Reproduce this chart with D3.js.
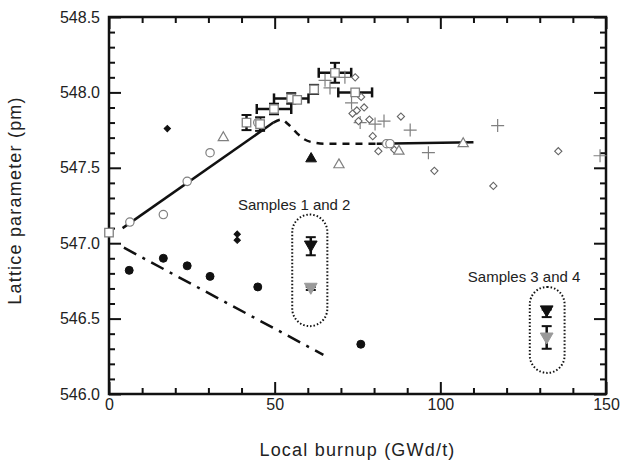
<!DOCTYPE html>
<html>
<head>
<meta charset="utf-8">
<script src="https://cdn.jsdelivr.net/npm/d3@7"></script>
<style>
  body { margin: 0; background: #fff; }
  text { font-family: "Liberation Sans", Arial, sans-serif; fill: #222; }
</style>
</head>
<body>
<div id="chart"></div>
<script>
// x = local burnup (GWd/t), y = lattice parameter (pm)
const xTicks = [0, 50, 100, 150];
const yTicks = [546.0, 546.5, 547.0, 547.5, 548.0, 548.5];

// open squares with error bars: [x, y, xErr, yErr]
const openSquares = [
  [0, 547.07, 0, 0],
  [41.5, 547.80, 0, 0.05],
  [45.6, 547.79, 0, 0.045],
  [49.8, 547.89, 5.2, 0.035],
  [55.0, 547.96, 5.2, 0.035],
  [56.8, 547.95, 0, 0],
  [61.9, 548.02, 0, 0.03],
  [68.2, 548.13, 4.9, 0.066],
  [74.3, 548.00, 5.1, 0]
];
const openCircles = [
  [6.3, 547.14], [16.4, 547.19], [23.6, 547.41], [30.5, 547.60],
  [44.9, 547.80], [83.8, 547.66], [84.8, 547.66]
];
const openTriangles = [
  [34.5, 547.70], [69.4, 547.52], [87.5, 547.61], [106.9, 547.66]
];
const filledTriangles = [[61.0, 547.56]];
const filledDiamonds = [[17.6, 547.76], [38.7, 547.06], [38.7, 547.02]];
const filledCircles = [
  [6.1, 546.82], [16.4, 546.90], [23.6, 546.85], [30.5, 546.78],
  [44.9, 546.71], [76.0, 546.33]
];
const openDiamonds = [
  [74.3, 548.10], [76.1, 547.97], [77.0, 547.90], [74.8, 547.88],
  [73.5, 547.86], [78.6, 547.82], [75.3, 547.81], [88.1, 547.84],
  [79.6, 547.71], [83.5, 547.66], [81.3, 547.61], [86.1, 547.62],
  [98.2, 547.48], [135.6, 547.61], [116.0, 547.38]
];
const crosses = [
  [65.2, 548.08], [66.7, 548.03], [71.2, 548.10], [73.2, 547.93],
  [75.8, 547.80], [80.3, 547.79], [83.0, 547.81], [90.9, 547.75],
  [96.4, 547.60], [117.3, 547.78], [148.2, 547.58]
];
// samples: [x, y, yErrLow, yErrHigh]
const samplesBlack = [[60.9, 546.99, 0.07, 0.05], [132.1, 546.56, 0.05, 0.0]];
const samplesGray = [[60.9, 546.71, 0.02, 0.0], [132.1, 546.38, 0.08, 0.07]];

const solidRise = [[4.1, 547.10], [49.6, 547.80]];
const dashedCurve = [
  [49.6, 547.80], [52.1, 547.82], [54.0, 547.79], [56.7, 547.73], [58.2, 547.70],
  [61.2, 547.67], [65.2, 547.66], [70.6, 547.66], [80.8, 547.66]
];
const solidFlat = [[80.8, 547.66], [110, 547.67]];
const dashDot = [[4.5, 546.97], [64.7, 546.26]];

// sample groups: label, capsule bounds [x0, x1, yTop, yBottom]
const groupLabels = ["Samples 1 and 2", "Samples 3 and 4"];
const groupBoxes = [[55.3, 65.9, 547.19, 546.45], [127.0, 137.5, 546.71, 546.14]];
const groupLabelPos = [[38.9, 547.19], [108.3, 546.71]];

const W = 632, H = 462;
const margin = {top: 17, right: 26, bottom: 68, left: 109};
const width = W - margin.left - margin.right, height = H - margin.top - margin.bottom;

const svg = d3.select("#chart").append("svg")
  .attr("width", W).attr("height", H)
  .append("g")
  .attr("transform", `translate(${margin.left},${margin.top})`);

const x = d3.scaleLinear().domain([0, 150]).range([0, width]);
const y = d3.scaleLinear().domain([546, 548.5]).range([height, 0]);

const xMinor = d3.range(0, 151, 10).filter(v => v % 50 !== 0);
const yMinor = d3.range(0, 26).map(i => 546 + i * 0.1).filter(v => Math.abs(v * 2 - Math.round(v * 2)) > 1e-6);

function styleAxis(g) {
  g.select(".domain").remove();
  g.selectAll("line").attr("stroke", "#111").attr("stroke-width", 2);
  g.selectAll("text").style("font-size", "16px").style("font-family", "Liberation Sans, Arial, sans-serif").attr("fill", "#222");
}

// bottom
svg.append("g").attr("transform", `translate(0,${height})`)
  .call(d3.axisBottom(x).tickValues(xTicks).tickSize(-12).tickPadding(5).tickFormat(d3.format("d")))
  .call(styleAxis);
svg.append("g").attr("transform", `translate(0,${height})`)
  .call(d3.axisBottom(x).tickValues(xMinor).tickSize(-6).tickFormat(""))
  .call(styleAxis);
// top
svg.append("g")
  .call(d3.axisTop(x).tickValues(xTicks).tickSize(-12).tickFormat(""))
  .call(styleAxis);
svg.append("g")
  .call(d3.axisTop(x).tickValues(xMinor).tickSize(-6).tickFormat(""))
  .call(styleAxis);
// left
svg.append("g")
  .call(d3.axisLeft(y).tickValues(yTicks).tickSize(-12).tickPadding(9).tickFormat(d3.format(".1f")))
  .call(styleAxis);
svg.append("g")
  .call(d3.axisLeft(y).tickValues(yMinor).tickSize(-6).tickFormat(""))
  .call(styleAxis);
// right
svg.append("g").attr("transform", `translate(${width},0)`)
  .call(d3.axisRight(y).tickValues(yTicks).tickSize(-12).tickFormat(""))
  .call(styleAxis);
svg.append("g").attr("transform", `translate(${width},0)`)
  .call(d3.axisRight(y).tickValues(yMinor).tickSize(-6).tickFormat(""))
  .call(styleAxis);

// frame
svg.append("rect")
  .attr("width", width).attr("height", height)
  .attr("fill", "none").attr("stroke", "#111").attr("stroke-width", 2.5);

// axis titles
svg.append("text")
  .attr("x", width / 2).attr("y", height + 62)
  .attr("text-anchor", "middle")
  .style("font-size", "18px").style("letter-spacing", "1.2px")
  .text("Local burnup (GWd/t)");
svg.append("text")
  .attr("transform", "rotate(-90)")
  .attr("x", -height / 2 + 5).attr("y", -88)
  .attr("text-anchor", "middle")
  .style("font-size", "18px").style("letter-spacing", "1.2px")
  .text("Lattice parameter (pm)");

// fit lines
const line = d3.line().x(d => x(d[0])).y(d => y(d[1]));
svg.append("path").datum(solidRise).attr("d", line)
  .attr("fill", "none").attr("stroke", "#111").attr("stroke-width", 2.5);
svg.append("path").datum(dashedCurve).attr("d", line.curve(d3.curveMonotoneX))
  .attr("fill", "none").attr("stroke", "#111").attr("stroke-width", 2.5)
  .attr("stroke-dasharray", "7,6");
line.curve(d3.curveLinear);
svg.append("path").datum(solidFlat).attr("d", line)
  .attr("fill", "none").attr("stroke", "#111").attr("stroke-width", 2.5);
svg.append("path").datum(dashDot).attr("d", line)
  .attr("fill", "none").attr("stroke", "#111").attr("stroke-width", 2.5)
  .attr("stroke-dasharray", "14,7,3,7");

// sample capsules
groupBoxes.forEach((b, i) => {
  const x0 = x(b[0]), x1 = x(b[1]), y0 = y(b[2]), y1 = y(b[3]);
  svg.append("rect")
    .attr("x", x0).attr("y", y0)
    .attr("width", x1 - x0).attr("height", y1 - y0)
    .attr("rx", (x1 - x0) / 2).attr("ry", (x1 - x0) / 2)
    .attr("fill", "none").attr("stroke", "#111").attr("stroke-width", 2)
    .attr("stroke-dasharray", "1.5,2");
  svg.append("text")
    .attr("x", x(groupLabelPos[i][0])).attr("y", y(groupLabelPos[i][1]) - 5)
    .style("font-size", "15px")
    .text(groupLabels[i]);
});

const GRAY = "#808080";

// error bars helper
function errBar(x1, y1, x2, y2, capVertical) {
  svg.append("line").attr("x1", x1).attr("y1", y1).attr("x2", x2).attr("y2", y2)
    .attr("stroke", "#111").attr("stroke-width", 2.5);
  [[x1, y1], [x2, y2]].forEach(p => {
    if (capVertical) {
      svg.append("line").attr("x1", p[0]).attr("x2", p[0]).attr("y1", p[1] - 5).attr("y2", p[1] + 5)
        .attr("stroke", "#111").attr("stroke-width", 2.5);
    } else {
      svg.append("line").attr("x1", p[0] - 5).attr("x2", p[0] + 5).attr("y1", p[1]).attr("y2", p[1])
        .attr("stroke", "#111").attr("stroke-width", 2);
    }
  });
}

// squares with error bars
openSquares.forEach(d => {
  if (d[2] > 0) errBar(x(d[0] - d[2]), y(d[1]), x(d[0] + d[2]), y(d[1]), true);
  if (d[3] > 0) errBar(x(d[0]), y(d[1] + d[3]), x(d[0]), y(d[1] - d[3]), false);
});

const sym = (type, size) => d3.symbol().type(type).size(size)();

function plot(data, type, size, fill, stroke, sw, rot) {
  svg.append("g").selectAll("path").data(data).join("path")
    .attr("transform", d => `translate(${x(d[0])},${y(d[1])})` + (rot ? ` rotate(${rot})` : ""))
    .attr("d", sym(type, size))
    .attr("fill", fill).attr("stroke", stroke).attr("stroke-width", sw);
}

// thin plus marks
svg.append("g").selectAll("path").data(crosses).join("path")
  .attr("transform", d => `translate(${x(d[0])},${y(d[1])})`)
  .attr("d", "M-6.5,0H6.5M0,-6.5V6.5")
  .attr("fill", "none").attr("stroke", GRAY).attr("stroke-width", 1.2);

// diamonds are squares turned by 45 degrees
plot(openDiamonds, d3.symbolSquare, 26, "#fff", "#666", 1.1, 45);
plot(openCircles, d3.symbolCircle, 55, "#fff", GRAY, 1.2);
plot(openTriangles, d3.symbolTriangle, 45, "#fff", GRAY, 1.2);
plot(filledTriangles, d3.symbolTriangle, 50, "#111", "#111", 1);
plot(filledDiamonds, d3.symbolSquare, 20, "#111", "#111", 1, 45);
plot(filledCircles, d3.symbolCircle, 50, "#111", "#111", 1);
plot(openSquares, d3.symbolSquare, 72, "#fff", GRAY, 1.3);

// samples: inverted triangles with vertical error bars
samplesBlack.concat(samplesGray).forEach(d => {
  const lo = d[1] - d[2], hi = d[1] + d[3];
  if (d[2] > 0 || d[3] > 0) errBar(x(d[0]), y(hi), x(d[0]), y(lo), false);
});
plot(samplesBlack, d3.symbolTriangle, 70, "#111", "#111", 1, 180);
plot(samplesGray, d3.symbolTriangle, 70, "#9a9a9a", "#9a9a9a", 1, 180);
</script>
</body>
</html>
